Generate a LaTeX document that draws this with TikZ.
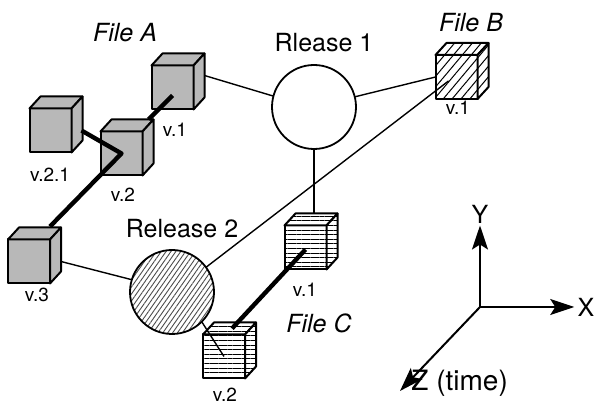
\documentclass[tikz,border=0pt]{standalone}
\usepackage{fontspec}
\setmainfont{TeX Gyre Heros}
\usetikzlibrary{positioning,calc,patterns.meta,arrows.meta}

% one version of a file: front face is the node, top and side drawn onto it
\newcommand{\vercube}[3]{%
    \node[face,#3] (#1) at (#2) {};
    \path[face,#3] (#1.north west) -- ++(5.5pt,6pt) -- ++(21pt,0pt) -- (#1.north east) -- cycle;
    \path[face,#3] (#1.north east) -- ++(5.5pt,6pt) -- ++(0pt,-22pt) -- (#1.south east) -- cycle;
}

\begin{document}
\begin{tikzpicture}[x=0.5pt, y=-0.5pt, line join=round,
    face/.style={draw, line width=1pt, minimum width=21pt, minimum height=22pt, inner sep=0pt, outer sep=0pt},
    filea/.style={fill=black!28},
    fileb/.style={preaction={fill=white}, pattern={Lines[angle=50,distance=3.4pt,line width=0.5pt]}},
    filec/.style={preaction={fill=white}, pattern={Lines[angle=0,distance=2.3pt,line width=0.5pt]}},
    release/.style={circle, draw, fill=white, line width=0.9pt, minimum size=42pt, inner sep=0pt, outer sep=0pt},
    hatched/.style={preaction={fill=white}, pattern={Lines[angle=55,distance=2pt,line width=0.45pt]}, pattern color=black!70},
    link/.style={line width=0.7pt},
    history/.style={line width=2.2pt},
    axis/.style={line width=1pt, -{Stealth[length=12pt,width=8pt,inset=2.5pt]}},
    big/.style={font=\fontsize{12.5}{14}\selectfont},
    fname/.style={font=\fontsize{12.5}{14}\selectfont\itshape},
    vlabel/.style={font=\fontsize{9.5}{11}\selectfont, inner sep=0pt}]
    \useasboundingbox (0,0) rectangle (595,405);

    % the two releases
    \node[release] (rel1) at (314,107) {};
    \node[release, hatched] (rel2) at (172,292) {};
    \node[big] (rel1lab) at (324,43) {Rlease 1};
    \node[big] (rel2lab) at (182,229) {Release 2};

    % file A
    \vercube{a1}{172.5,87.5}{filea}
    \vercube{a2}{121.5,153.5}{filea}
    \vercube{a21}{50.5,130.5}{filea}
    \vercube{a3}{29,261.5}{filea}
    \node[fname] (fa) at (125,33) {File A};
    \node[vlabel] (a1lab) at (175,130) {v.1};
    \node[vlabel] (a2lab) at (123,195) {v.2};
    \node[vlabel] (a21lab) at (50,175) {v.2.1};
    \node[vlabel] (a3lab) at (37,295) {v.3};

    % file B
    \vercube{b1}{456.5,77}{fileb}
    \node[fname] (fb) at (471,23) {File B};
    \node[vlabel] (b1lab) at (458,108) {v.1};

    % file C
    \vercube{c1}{305.5,247.5}{filec}
    \vercube{c2}{224,356.5}{filec}
    \node[fname] (fc) at (319,323) {File C};
    \node[vlabel] (c1lab) at (305,290) {v.1};
    \node[vlabel] (c2lab) at (225,395) {v.2};

    % which version goes in which release
    \coordinate (c1top) at ([yshift=6pt]c1.north);
    \draw[link] ([shift={(5.5pt,6pt)}]a1.east) -- (rel1.165);
    \draw[link] (rel1.14) -- (b1.west);
    \draw[link] (rel1.south) -- (rel1.south |- c1top);
    \draw[link] ([xshift=5.5pt]a3.east) -- (rel2.163);
    \draw[link] (rel2.36) -- ([shift={(-4pt,-2pt)}]b1.center);
    \draw[link] (rel2.-45) -- (c2.center);

    % version history
    \draw[history] ([yshift=-4pt]a1.center) -- ([shift={(3pt,6pt)}]a2.north east);
    \draw[history] ([xshift=5pt]a21.east) -- (a2.center) -- ([yshift=6.5pt]a3.north east);
    \draw[history] ([yshift=-1pt]c1.center) -- ([shift={(4pt,3pt)}]c2.north);

    % axes
    \coordinate (o) at (480,307);
    \node[big, inner sep=0pt] (ylab) at (480,214) {Y};
    \node[big, inner sep=0pt] (xlab) at (586,307) {X};
    \node[inner sep=0pt, anchor=base west, font=\fontsize{14}{16}\selectfont] (zlab) at (411,391) {Z (time)};
    \draw[axis] (o) -- ([yshift=-1pt]ylab.south);
    \draw[axis] (o) -- ([xshift=-1.5pt]xlab.west);
    \draw[axis] (o) -- ([xshift=-5.5pt]zlab.base west);
\end{tikzpicture}
\end{document}
